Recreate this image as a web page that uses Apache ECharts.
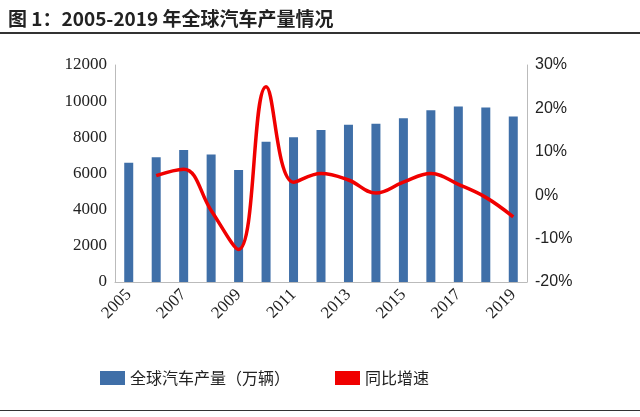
<!DOCTYPE html>
<html><head><meta charset="utf-8">
<script src="https://cdn.jsdelivr.net/npm/echarts@6/dist/echarts.min.js"></script>
<style>body{margin:0;background:#fff}#t{position:absolute;left:8px;top:4px;font:bold 19px "Noto Sans CJK SC",serif;color:#222}
#l1{position:absolute;left:0;top:32px;width:640px;height:2px;background:#333}#l2{position:absolute;left:0;top:410px;width:640px;height:1px;background:#333}
#c{width:640px;height:417px}</style></head><body>
<div id="c"></div><div id="t">图 1：2005-2019 年全球汽车产量情况</div><div id="l1"></div><div id="l2"></div>
<script>
const years=['2005','2006','2007','2008','2009','2010','2011','2012','2013','2014','2015','2016','2017','2018','2019'];
const production=[6600,6900,7300,7050,6200,7760,8000,8400,8700,8750,9050,9500,9700,9650,9150];
const growth=[null,4.5,6,-3.5,-12.5,25,3,5,3.5,0.5,3,5,2.5,-0.5,-5];
const c=echarts.init(document.getElementById('c'));
const ax={fontFamily:'Times New Roman, Liberation Serif',fontSize:17,color:'#222'};
c.setOption({animation:false,
grid:{left:115,right:113,top:65,bottom:135},
legend:{bottom:26,left:95,itemGap:45,textStyle:{fontFamily:'Noto Sans CJK SC',fontSize:16,color:'#222'},
 data:[{name:'全球汽车产量（万辆）',icon:'rect',itemWidth:52,itemHeight:9},{name:'同比增速',icon:'rect',itemWidth:50,itemHeight:4}]},
xAxis:{type:'category',data:years,axisTick:{show:false},axisLine:{lineStyle:{color:'#bbb'}},
 axisLabel:Object.assign({rotate:45,interval:1,margin:10},ax)},
yAxis:[{min:0,max:12000,interval:2000,axisLine:{show:true,lineStyle:{color:'#bbb'}},splitLine:{show:false},axisLabel:Object.assign({formatter:v=>String(v)},ax)},
 {min:-20,max:30,interval:10,axisLine:{show:true,lineStyle:{color:'#bbb'}},splitLine:{show:false},
  axisLabel:Object.assign({formatter:'{value}%'},ax,{fontFamily:'Liberation Sans',fontSize:16})}],
series:[{name:'全球汽车产量（万辆）',type:'bar',data:production,barWidth:9,itemStyle:{color:'#3f6fa8'}},
 {name:'同比增速',type:'line',yAxisIndex:1,data:growth,smooth:0.4,symbol:'none',lineStyle:{color:'#f00000',width:3.5},itemStyle:{color:'#f00000'}}]});
</script></body></html>
